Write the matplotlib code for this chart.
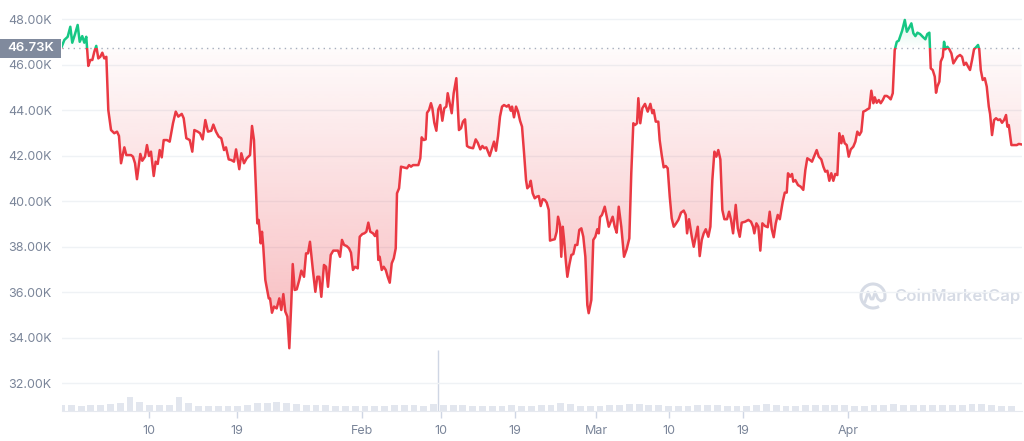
import numpy as np
import matplotlib
matplotlib.use("Agg")
import matplotlib.pyplot as plt
from matplotlib.patches import Rectangle, Arc
from matplotlib.transforms import blended_transform_factory

plt.rcParams['font.family'] = ['Inter', 'DejaVu Sans']

# BTC price (thousands USD), x = days since Jan 1 2022
days = [
    0.0, 0.29, 0.63, 0.90, 1.10, 1.38, 1.65, 1.86, 2.12, 2.33,
    2.53, 2.74, 2.94, 3.15, 3.35, 3.55, 3.76, 3.96, 4.17, 4.37,
    4.58, 4.78, 5.06, 5.39, 5.67, 5.87, 6.08, 6.42, 6.62, 7.10,
    7.30, 7.51, 7.71, 8.05, 8.25, 8.53, 8.73, 8.94, 9.14, 9.42,
    9.62, 9.83, 10.03, 10.24, 10.44, 10.78, 11.05, 11.39, 11.67, 11.93,
    12.28, 12.48, 12.75, 13.10, 13.36, 13.57, 13.91, 14.15, 14.42, 14.69,
    14.96, 15.30, 15.51, 15.78, 16.06, 16.32, 16.60, 16.80, 17.08, 17.35,
    17.62, 17.83, 18.16, 18.37, 18.64, 18.92, 19.26, 19.46, 19.66, 19.87,
    20.00, 20.14, 20.35, 20.48, 20.61, 20.82, 21.17, 21.30, 21.50, 21.71,
    21.98, 22.25, 22.45, 22.66, 22.86, 23.07, 23.27, 23.47, 23.62, 23.82,
    24.03, 24.29, 24.50, 24.77, 24.98, 25.18, 25.38, 25.66, 25.93, 26.13,
    26.33, 26.54, 26.81, 27.02, 27.22, 27.50, 27.76, 28.24, 28.45, 28.65,
    28.86, 29.13, 29.37, 29.57, 29.77, 29.98, 30.26, 30.46, 30.73, 30.93,
    31.14, 31.34, 31.54, 31.82, 32.02, 32.23, 32.36, 32.50, 32.71, 32.91,
    33.12, 33.32, 33.53, 33.73, 33.94, 34.14, 34.27, 34.48, 34.68, 34.96,
    35.29, 35.50, 35.70, 35.91, 36.18, 36.45, 36.65, 36.79, 37.00, 37.20,
    37.34, 37.54, 37.74, 37.88, 38.08, 38.29, 38.49, 38.69, 38.90, 39.10,
    39.31, 39.45, 39.65, 39.86, 40.06, 40.33, 40.60, 40.81, 41.01, 41.22,
    41.42, 41.63, 42.04, 42.31, 42.52, 42.78, 42.99, 43.19, 43.39,
    43.74, 43.98, 44.18, 44.38, 44.59, 44.79, 45.00, 45.20, 45.48, 45.68,
    45.89, 46.02, 46.22, 46.43, 46.63, 46.84, 47.04, 47.25, 47.45, 47.58,
    47.79, 47.93, 48.13, 48.34, 48.54, 48.75, 48.95, 49.15, 49.36, 49.56,
    49.77, 49.90, 50.10, 50.38, 50.58, 50.72, 50.92, 51.05, 51.20, 51.33,
    51.53, 51.67, 51.87, 52.08, 52.28, 52.48, 52.69, 52.89, 53.10, 53.30,
    53.51, 53.71, 53.85, 53.99, 54.12, 54.32, 54.53, 54.73, 54.88, 55.01,
    55.21, 55.49, 55.69, 55.90, 56.10, 56.30, 56.51, 56.71, 56.92, 57.18,
    57.46, 57.73, 58.00, 58.20, 58.41,
    58.58, 58.79, 58.92, 59.12, 59.33, 59.60, 59.88, 60.15, 60.35, 60.49,
    60.70, 60.96, 61.10, 61.31, 61.51, 61.72, 61.92, 62.13, 62.33, 62.54,
    62.74, 63.01, 63.28, 63.56, 63.76, 63.90, 64.10, 64.38, 64.58, 64.78,
    64.99, 65.19, 65.40, 65.60, 65.81, 66.07, 66.28, 66.48, 66.69, 66.89,
    67.09, 67.30, 67.50, 67.71, 67.98, 68.19, 68.39, 68.60, 68.87, 69.08,
    69.28, 69.48, 69.82, 70.16, 70.43, 70.64, 70.77, 70.98, 71.18, 71.38,
    71.59, 71.86, 72.14, 72.34, 72.55, 72.75, 72.96, 73.16, 73.37,
    73.67, 73.88, 74.08, 74.21, 74.42, 74.62, 74.75, 74.96, 75.23, 75.51,
    75.77, 75.98, 76.18, 76.46, 76.66, 76.87, 77.14, 77.35, 77.61, 77.82,
    78.02, 78.23, 78.43, 78.63, 78.84, 79.04, 79.25, 79.45, 79.66, 79.80,
    80.00, 80.21, 80.41, 80.62, 80.88, 81.09, 81.29, 81.50, 81.70, 81.90,
    82.11, 82.31, 82.52, 82.72, 82.93, 83.07, 83.27, 83.48, 83.68, 83.89,
    84.09, 84.30, 84.50, 84.70, 84.91, 85.11, 85.32, 85.52,
    85.87, 86.14, 86.35, 86.61, 86.81, 87.02, 87.22, 87.43, 87.70, 87.97,
    88.24, 88.44, 88.65, 88.79, 88.99, 89.20, 89.33, 89.46, 89.67, 89.81,
    90.02, 90.15, 90.28, 90.49, 90.69, 90.90, 91.10, 91.31, 91.51, 91.78,
    91.99, 92.19, 92.40, 92.60, 92.80, 93.01, 93.21, 93.42, 93.62, 93.75,
    93.90, 94.10, 94.31, 94.51, 94.72, 94.85, 95.05, 95.26, 95.46, 95.67,
    95.87, 96.07, 96.28, 96.48, 96.62, 96.76, 97.03, 97.30, 97.58, 97.78, 98.04,
]
price_k = [
    46.78, 47.10, 47.24, 47.68, 46.98, 47.36, 47.76, 47.02, 47.27, 46.98,
    47.24, 45.96, 46.22, 46.22, 46.58, 46.84, 46.29, 46.36, 46.54, 46.29,
    46.36, 44.02, 43.14, 43.00, 43.07, 42.88, 41.68, 42.38, 42.04, 42.04,
    41.97, 41.68, 40.98, 42.09, 41.79, 41.97, 42.48, 42.00, 42.19, 41.12,
    41.75, 41.65, 42.26, 41.94, 42.70, 42.70, 42.63, 43.44, 43.95, 43.73,
    43.85, 43.66, 42.78, 42.70, 42.19, 43.14, 43.07, 43.00, 42.73, 43.58,
    43.07, 43.11, 43.38, 43.07, 42.85, 42.78, 42.26, 42.38, 41.85, 41.82,
    41.75, 42.29, 41.42, 42.12, 41.68, 41.90, 42.04, 43.32, 42.70, 40.51,
    39.04, 39.19, 38.16, 38.67, 38.01, 36.55, 35.74, 35.74, 35.11, 35.38,
    35.30, 35.74, 35.23, 35.93, 35.16, 34.94, 33.55, 35.52, 37.25, 36.11,
    36.14, 36.55, 36.96, 36.69, 37.72, 37.72, 38.23, 37.06, 36.03, 36.69,
    36.69, 35.81, 37.21, 37.13, 36.25, 37.65, 37.84, 37.84, 37.57, 38.31,
    38.09, 38.04, 37.94, 37.75, 36.99, 37.13, 37.06, 38.45, 38.57, 38.60,
    38.67, 39.07, 38.67, 38.60, 38.48, 38.72, 37.43, 37.57, 36.99, 37.13,
    36.99, 36.69, 36.43, 37.28, 37.50, 37.94, 40.36, 40.58, 41.53, 41.50,
    41.46, 41.60, 41.53, 41.60, 41.60, 41.60, 41.90, 42.82, 42.70, 42.73,
    43.90, 44.02, 44.32, 44.10, 43.46, 43.11, 44.05, 44.24, 43.55, 44.10,
    44.17, 44.76, 44.32, 43.88, 44.76, 45.42, 43.14, 43.22, 43.51, 43.61,
    42.44, 42.38, 42.34, 42.73, 42.58, 42.29, 42.44, 42.34, 42.38,
    42.00, 42.34, 42.63, 42.23, 42.88, 43.73, 44.17, 44.24, 44.17, 44.24,
    43.99, 44.17, 43.70, 44.17, 43.95, 43.55, 43.29, 42.12, 40.94, 40.58,
    40.68, 40.91, 40.36, 40.14, 40.21, 40.24, 39.80, 40.10, 40.07, 39.95,
    39.63, 38.28, 38.31, 38.34, 38.67, 39.33, 38.97, 37.57, 38.89, 38.34,
    37.31, 36.69, 37.21, 37.65, 37.69, 38.09, 38.09, 38.75, 38.82, 38.45,
    37.57, 35.45, 35.09, 35.38, 35.67, 38.31, 38.45, 38.78, 38.60, 39.31,
    39.41, 39.77, 39.33, 38.89, 39.11, 39.33, 38.89, 38.63, 39.77, 38.89,
    37.57, 37.90, 38.38, 41.24, 43.44,
    43.36, 43.44, 44.54, 43.44, 44.10, 44.29, 43.95, 44.29, 43.88, 44.02,
    43.51, 43.51, 42.70, 42.04, 41.50, 41.56, 41.46, 40.21, 39.26, 38.89,
    39.01, 39.19, 39.51, 39.60, 39.41, 38.60, 39.22, 38.45, 38.01, 38.45,
    38.89, 37.60, 38.31, 38.60, 38.78, 38.45, 38.89, 40.94, 42.19, 41.97,
    42.26, 41.85, 39.63, 39.22, 39.22, 39.55, 39.19, 38.60, 39.85, 38.82,
    38.45, 39.07, 39.11, 39.19, 39.11, 38.89, 38.60, 39.04, 38.89, 37.84,
    39.04, 38.92, 38.87, 39.55, 38.78, 38.43, 39.04, 39.41, 39.22,
    39.99, 40.39, 40.39, 41.24, 41.09, 41.21, 40.87, 40.94, 40.72, 40.65,
    40.51, 41.38, 41.90, 41.82, 41.75, 41.97, 42.26, 41.97, 41.85, 41.53,
    41.31, 41.35, 40.91, 41.24, 40.91, 41.21, 41.16, 43.00, 42.56, 42.88,
    42.56, 42.48, 41.97, 42.29, 42.41, 42.63, 43.07, 42.92, 43.07, 43.95,
    43.99, 44.05, 44.10, 44.87, 44.32, 44.58, 44.34, 44.46, 44.32, 44.46,
    44.64, 44.64, 44.58, 44.49, 44.76, 46.66, 47.02, 47.07,
    47.51, 47.98, 47.46, 47.66, 47.83, 47.39, 47.27, 47.42, 47.36, 47.24,
    47.13, 47.36, 47.42, 45.85, 45.78, 45.49, 44.78, 45.05, 45.27, 46.15,
    46.36, 47.02, 46.69, 46.80, 46.69, 46.51, 46.07, 46.22, 46.36, 46.44,
    46.36, 46.00, 46.10, 45.93, 45.78, 46.22, 46.69, 46.78, 46.88, 46.66,
    45.78, 45.34, 45.42, 45.05, 44.17, 43.85, 42.92, 43.58, 43.66, 43.58,
    43.61, 43.46, 43.58, 43.80, 43.29, 43.36, 42.48, 42.48, 42.48, 42.53, 42.51,
]
baseline_k = 46.73

# daily volume, billions USD (day index 0..97), plus one outlier print
volume_b = [
    30, 28, 27, 29, 31, 33,
    42, 70, 45,
    30, 29, 28,
    68, 40,
    27, 26, 25, 26, 27, 28,
    38, 42, 44, 38,
    33, 30, 30, 28, 27, 26,
    25, 25, 26, 27, 30, 31, 28, 27,
    33, 30, 32, 29, 26, 25, 26, 27,
    28, 26, 27, 29, 30, 40, 33,
    27, 26, 25, 28, 32, 35, 33,
    30, 29, 27, 26, 27, 29, 31,
    28, 26, 25, 27, 30, 33, 29,
    27, 26, 28, 30, 29, 28, 30,
    27, 26, 31, 32, 33, 31, 30,
    29, 28, 30, 31, 30, 33, 34, 29, 27, 26,
]
spike_day = 38.43
spike_vol_b = 305

y_ticks = [32, 34, 36, 38, 40, 42, 44, 46, 48]
x_tick_pos = [8.94, 17.88, 30.73, 38.77, 46.33, 54.60, 62.09, 69.58, 80.37]
x_tick_labels = ['10', '19', 'Feb', '10', '19', 'Mar', '10', '19', 'Apr']

RED = '#ea3943'
GREEN = '#16c784'
LABEL = '#7a8599'

W, H = 1024, 441
fig = plt.figure(figsize=(W / 100, H / 100), dpi=100)
ax = fig.add_axes([61.5 / W, (H - 411) / H, 960 / W, 411 / H])
xmin, xmax = 0, 98.06
ymin, ymax = 30.79, 48.857

# volume bars on their own scale
vax = ax.twinx()
vax.bar(np.arange(len(volume_b)), volume_b, width=0.7, color='#e2e6ee', linewidth=0)
vax.vlines(spike_day, 0, spike_vol_b, color='#cfd6e4', lw=1)
vax.set_ylim(0, 411 * 5)
vax.set_xlim(xmin, xmax)
vax.axis('off')
ax.set_zorder(vax.get_zorder() + 1)
ax.patch.set_visible(False)

# gradient fill between price and baseline
x = np.array(days)
y = np.array(price_k)
ys = np.linspace(ymin, ymax, 500)
rgba = np.zeros((len(ys), 1, 4))
below = ys < baseline_k
rgba[below, 0, :3] = matplotlib.colors.to_rgb(RED)
rgba[below, 0, 3] = 0.02 + 0.40 * (baseline_k - ys[below]) / (baseline_k - ymin)
rgba[~below, 0, :3] = matplotlib.colors.to_rgb(GREEN)
rgba[~below, 0, 3] = 0.28 * (ys[~below] - baseline_k) / (ymax - baseline_k)
im = ax.imshow(rgba, extent=[xmin, xmax, ymin, ymax], origin='lower',
               aspect='auto', interpolation='bilinear', zorder=1)
poly = ax.fill_between(x, y, baseline_k, color='none', lw=0)
im.set_clip_path(poly.get_paths()[0], transform=ax.transData)

# price line: red below baseline, green above
for col, y0, h in [(RED, ymin, baseline_k - ymin), (GREEN, baseline_k, ymax - baseline_k)]:
    ln, = ax.plot(x, y, color=col, lw=1.8, solid_joinstyle='round', zorder=3)
    ln.set_clip_path(Rectangle((xmin, y0), xmax - xmin, h, transform=ax.transData))

ax.axhline(baseline_k, color='#a6adbd', lw=1, ls=(0, (1, 3)), zorder=2)

ax.set_xlim(xmin, xmax)
ax.set_ylim(ymin, ymax)
ax.set_yticks(y_ticks)
ax.set_yticklabels([f'{v:.2f}K' for v in y_ticks])
ax.set_xticks(x_tick_pos)
ax.set_xticklabels(x_tick_labels)
ax.yaxis.grid(True, color='#eff2f5', lw=1)
ax.set_axisbelow(True)
for s in ['top', 'right', 'left']:
    ax.spines[s].set_visible(False)
ax.spines['bottom'].set_color('#e6e9ef')
ax.tick_params(axis='y', length=0, pad=7, labelsize=9, labelcolor=LABEL)
ax.tick_params(axis='x', length=5, width=1, color='#cfd6e4', pad=5,
               labelsize=9, labelcolor=LABEL)

# current-price tag on the left
tr = blended_transform_factory(fig.transFigure, ax.transData)
ax.add_patch(Rectangle((0, baseline_k - 0.43), 61 / W, 0.86, transform=tr,
                       fc='#808a9d', ec='none', clip_on=False, zorder=5))
ax.text(31 / W, baseline_k, f'{baseline_k:.2f}K', transform=tr, ha='center',
        va='center', color='white', fontsize=9.5, fontweight='semibold',
        zorder=6, clip_on=False)

# watermark
ov = fig.add_axes([0, 0, 1, 1])
ov.set_xlim(0, W)
ov.set_ylim(H, 0)
ov.axis('off')
wm = '#d6dbe5'
ov.add_patch(Arc((873, 296), 24, 24, theta1=-300, theta2=20, color=wm, lw=2.2))
ov.plot([865, 868, 871, 873, 875, 878, 881, 884], [302, 292, 299, 299, 292, 299, 301, 300],
        color=wm, lw=2, solid_joinstyle='round', solid_capstyle='round')
ov.text(894, 296, 'CoinMarketCap', color=wm, fontsize=12, fontweight='semibold',
        ha='left', va='center')

fig.savefig('out.png', dpi=100)
